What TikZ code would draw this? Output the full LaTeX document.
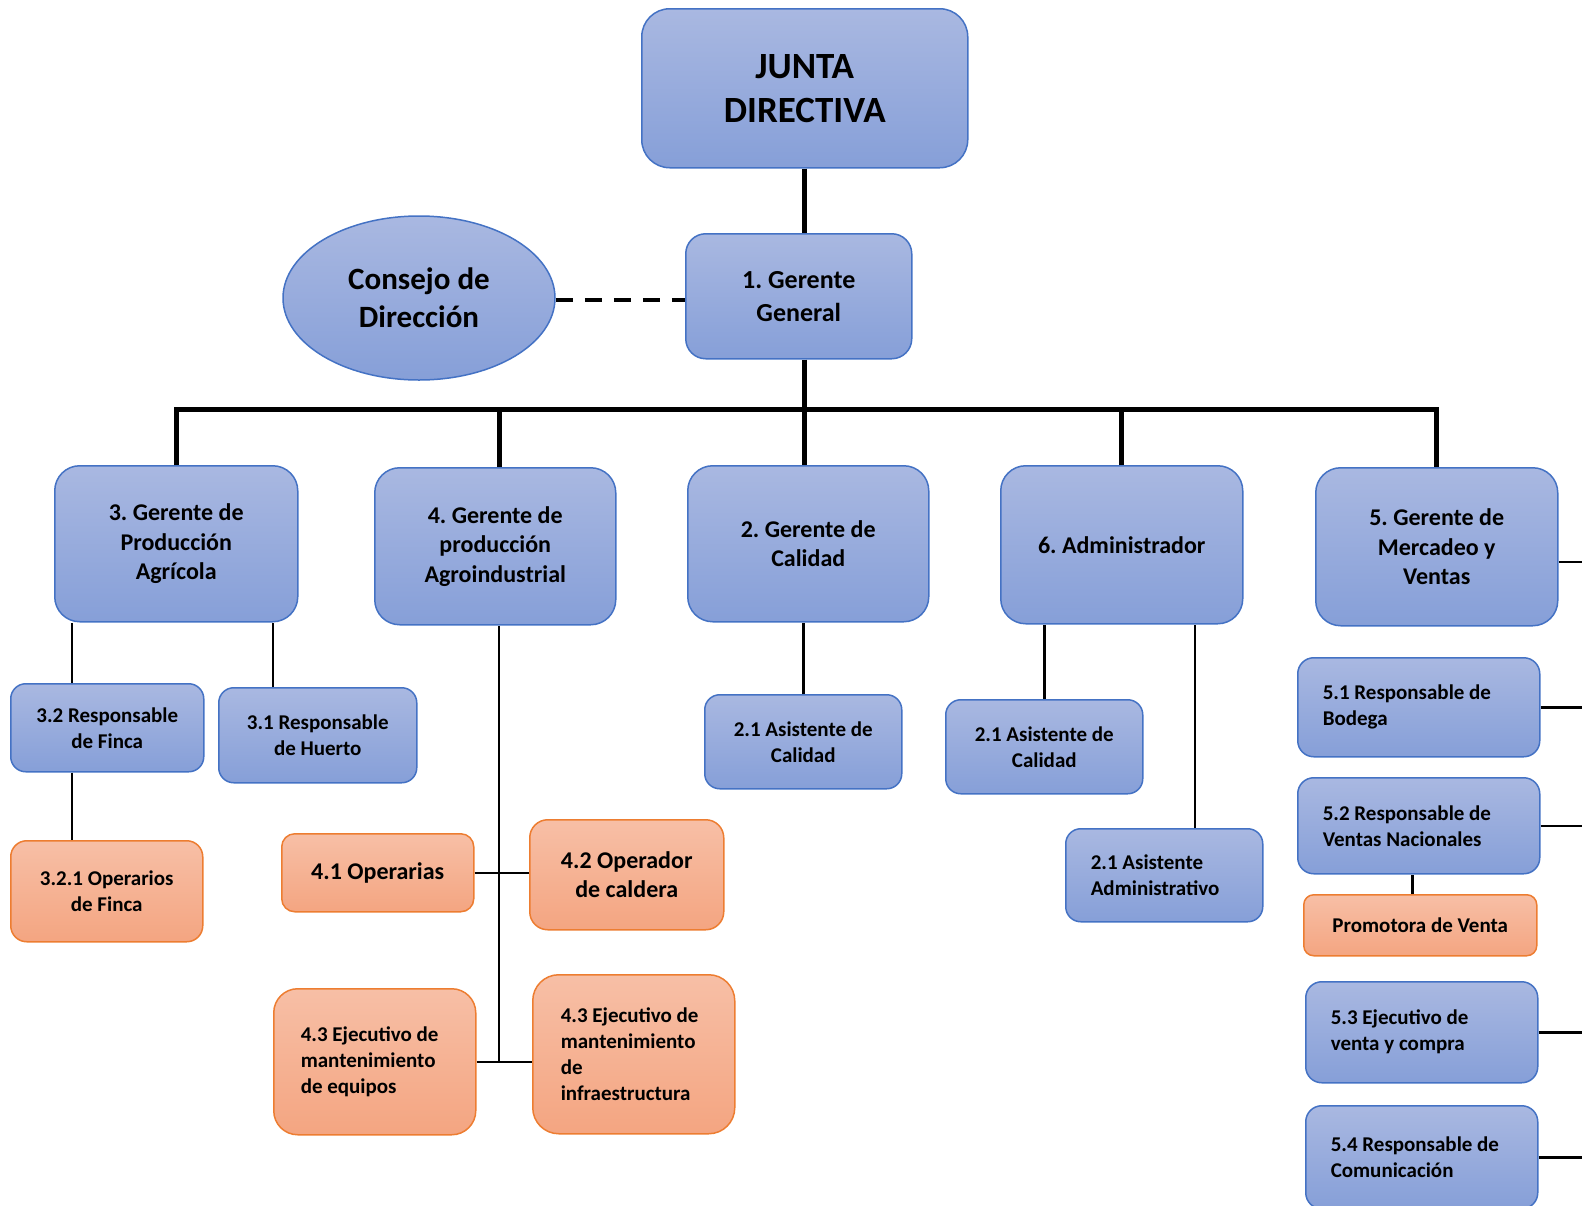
\documentclass[tikz,border=0pt]{standalone}
\usepackage{fontspec}
\setmainfont{Carlito}
\frenchspacing
\usetikzlibrary{shapes.geometric}

\definecolor{azulA}{RGB}{169,184,225}
\definecolor{azulB}{RGB}{134,159,216}
\definecolor{azulBorde}{RGB}{68,114,196}
\definecolor{naranjaA}{RGB}{247,191,166}
\definecolor{naranjaB}{RGB}{244,165,129}
\definecolor{naranjaBorde}{RGB}{237,125,49}

\begin{document}
\begin{tikzpicture}[x=1pt, y=-1pt,
azul/.style={draw=azulBorde, line width=1.5pt, top color=azulA, bottom color=azulB,
  rounded corners=25pt, inner sep=0pt, align=center, anchor=north west},
naranja/.style={draw=naranjaBorde, line width=1.5pt, top color=naranjaA, bottom color=naranjaB,
  rounded corners=24pt, inner sep=0pt, align=center, anchor=north west},
grueso/.style={line width=5pt},
fino/.style={line width=2.5pt},
f36/.style={font=\bfseries\fontsize{37}{44}\selectfont},
f31/.style={font=\bfseries\fontsize{31}{38}\selectfont},
f26/.style={font=\bfseries\fontsize{26}{33}\selectfont},
f24/.style={font=\bfseries\fontsize{24}{29.5}\selectfont},
f21/.style={font=\bfseries\fontsize{21}{26}\selectfont}]

\useasboundingbox (0,0) rectangle (1582,1205);

\coordinate (bus) at (0,409);
\coordinate (t4) at (499,1061);
\coordinate (borde) at (1590,0);

% Direccion
\node[azul, f36, rounded corners=28pt, minimum width=326pt, minimum height=159pt] (junta) at (641,8) {JUNTA\\DIRECTIVA};
\node[azul, f26, rounded corners=20pt, minimum width=226pt, minimum height=125pt] (gerente) at (685,233) {1. Gerente\\General};
\node[ellipse, draw=azulBorde, line width=1.5pt, top color=azulA, bottom color=azulB, f31, align=center,
  minimum width=272pt, minimum height=164pt] (consejo) at (419,298) {Consejo de\\Dirección};

% Gerencias
\node[azul, f24, minimum width=243pt, minimum height=156pt] (g3) at (54,465) {3. Gerente de\\Producción\\Agrícola};
\node[azul, f24, minimum width=241pt, minimum height=157pt] (g4) at (374,467) {4. Gerente de\\producción\\Agroindustrial};
\node[azul, f24, minimum width=241pt, minimum height=156pt] (g2) at (687,465) {2. Gerente de\\Calidad};
\node[azul, f24, minimum width=242pt, minimum height=158pt] (g6) at (1000,465) {6. Administrador};
\node[azul, f24, minimum width=242pt, minimum height=158pt] (g5) at (1315,467) {5. Gerente de\\Mercadeo y\\Ventas};

% 3.
\node[azul, f21, rounded corners=15pt, minimum width=193pt, minimum height=88pt] (r32) at (10,683) {3.2 Responsable\\de Finca};
\node[azul, f21, rounded corners=15pt, minimum width=198pt, minimum height=95pt] (r31) at (218,687) {3.1 Responsable\\de Huerto};
\node[naranja, f21, rounded corners=16pt, minimum width=192pt, minimum height=101pt] (op321) at (10,840) {3.2.1 Operarios\\de Finca};

% 4.
\node[naranja, f24, rounded corners=13pt, minimum width=192pt, minimum height=78pt] (op41) at (281,833) {4.1 Operarias};
\node[naranja, f24, rounded corners=18pt, minimum width=194pt, minimum height=110pt] (op42) at (529,819) {4.2 Operador\\de caldera};
\node[naranja, f21, align=flush left, text width=148pt, minimum width=202pt, minimum height=146pt] (ej43a) at (273,988)
  {4.3 Ejecutivo de\\mantenimiento\\de equipos};
\node[naranja, f21, align=flush left, text width=146pt, rounded corners=26pt, minimum width=202pt, minimum height=159pt] (ej43b) at (532,974)
  {4.3 Ejecutivo de\\mantenimiento\\de\\infraestructura};

% 2. y 6.
\node[azul, f21, rounded corners=15pt, minimum width=197pt, minimum height=94pt] (as21) at (704,694) {2.1 Asistente de\\Calidad};
\node[azul, f21, rounded corners=15pt, minimum width=197pt, minimum height=94pt] (as21b) at (945,699) {2.1 Asistente de\\Calidad};
\node[azul, f21, align=flush left, text width=147pt, rounded corners=15pt, minimum width=197pt, minimum height=93pt] (asadm) at (1065,828)
  {2.1 Asistente\\Administrativo};

% 5.
\node[azul, f21, align=flush left, text width=192pt, rounded corners=16pt, minimum width=242pt, minimum height=99pt] (r51) at (1297,657)
  {5.1 Responsable de\\Bodega};
\node[azul, f21, align=flush left, text width=192pt, rounded corners=16pt, minimum width=242pt, minimum height=96pt] (r52) at (1297,777)
  {5.2 Responsable de\\Ventas Nacionales};
\node[naranja, f21, rounded corners=10pt, minimum width=233pt, minimum height=61pt] (prom) at (1303,894) {Promotora de Venta};
\node[azul, f21, align=flush left, text width=182pt, rounded corners=16pt, minimum width=232pt, minimum height=101pt] (e53) at (1305,981)
  {5.3 Ejecutivo de\\venta y compra};
\node[azul, f21, align=flush left, text width=182pt, rounded corners=16pt, minimum width=232pt, minimum height=103pt] (r54) at (1305,1105)
  {5.4 Responsable de\\Comunicación};

% lineas gruesas
\draw[grueso] (junta.south) -- (junta.south |- gerente.north);
\draw[grueso] (junta.south |- gerente.south) -- (junta.south |- g2.north);
\draw[grueso] (g3.north) -- (g3.north |- bus) -- (g5.north |- bus) -- (g5.north);
\draw[grueso] (t4 |- bus) -- (t4 |- g4.north);
\draw[grueso] (g6.north) -- (g6.north |- bus);
\draw[line width=4pt, dash pattern=on 17pt off 12pt] ([yshift=-2pt]consejo.east) -- ([yshift=-2pt]consejo.east -| gerente.west);

% lineas finas
\draw[fino] ([xshift=62pt]r32.north west) -- ([xshift=62pt]r32.north west |- g3.south);
\draw[fino] ([xshift=62pt]r32.south west) -- ([xshift=62pt]op321.north west);
\draw[fino] ([xshift=55pt]r31.north west) -- ([xshift=55pt]r31.north west |- g3.south);
\draw[fino] (t4 |- g4.south) -- (t4);
\draw[fino] (op41.east) -- (op41.east -| op42.west);
\draw[fino] (ej43a.east) -- (ej43a.east -| ej43b.west);
\draw[fino] (as21.north) -- (as21.north |- g2.south);
\draw[fino] (as21b.north) -- (as21b.north |- g6.south);
\draw[fino] ([xshift=130pt]asadm.north west) -- ([xshift=130pt]asadm.north west |- g6.south);
\draw[fino] ([xshift=-8pt]prom.north) -- ([xshift=-8pt]prom.north |- r52.south);

% hacia el borde derecho
\draw[fino] ([yshift=-15pt]g5.east) -- ([yshift=-15pt]g5.east -| borde);
\draw[fino] (r51.east) -- (r51.east -| borde);
\draw[fino] (r52.east) -- (r52.east -| borde);
\draw[fino] (e53.east) -- (e53.east -| borde);
\draw[fino] (r54.east) -- (r54.east -| borde);

\end{tikzpicture}
\end{document}
